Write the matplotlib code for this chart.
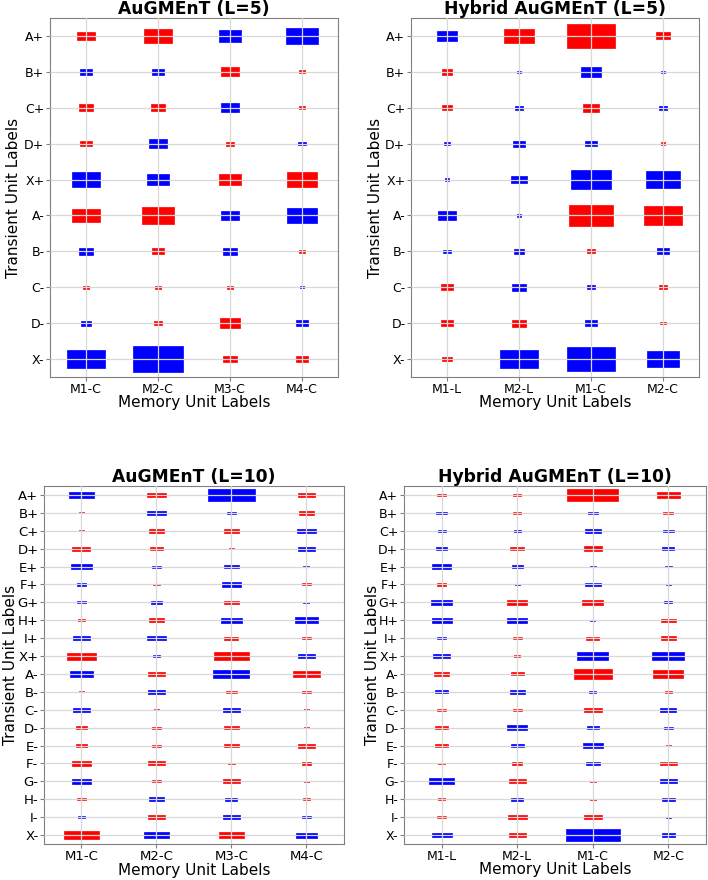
import numpy as np
import matplotlib
matplotlib.use('Agg')
import matplotlib.pyplot as plt
from matplotlib.patches import Rectangle

# row / column labels
rows_l5 = ['A+', 'B+', 'C+', 'D+', 'X+', 'A-', 'B-', 'C-', 'D-', 'X-']
rows_l10 = ['A+', 'B+', 'C+', 'D+', 'E+', 'F+', 'G+', 'H+', 'I+', 'X+',
            'A-', 'B-', 'C-', 'D-', 'E-', 'F-', 'G-', 'H-', 'I-', 'X-']
cols_aug = ['M1-C', 'M2-C', 'M3-C', 'M4-C']
cols_hyb = ['M1-L', 'M2-L', 'M1-C', 'M2-C']

# weights (red = positive, blue = negative), rows x memory units
w_aug5 = [
    [0.060, 0.160, -0.099, -0.194],
    [-0.029, -0.028, 0.0625, 0.0055],
    [0.040, 0.040, -0.060, 0.0081],
    [0.0256, -0.0625, 0.0112, -0.010],
    [-0.160, -0.093, 0.093, 0.168],
    [0.148, 0.203, -0.068, -0.172],
    [-0.036, 0.028, -0.038, 0.0069],
    [0.0077, 0.0062, 0.0069, -0.0036],
    [-0.018, 0.0135, 0.078, -0.031],
    [-0.270, -0.490, 0.034, 0.031],
]
w_hyb5 = [
    [-0.073, 0.168, 0.462, 0.036],
    [0.0225, -0.0042, -0.073, -0.0042],
    [0.0196, -0.010, 0.0484, -0.010],
    [-0.0064, -0.028, -0.0256, 0.0042],
    [-0.0036, -0.044, -0.3025, -0.221],
    [-0.065, -0.0036, 0.360, 0.281],
    [-0.010, -0.0169, 0.0144, -0.028],
    [0.0256, -0.038, -0.0112, 0.010],
    [0.0324, 0.040, -0.0324, 0.0055],
    [0.018, -0.270, -0.462, -0.189],
]
w_aug10 = [
    [-0.109, 0.0625, -0.397, 0.048],
    [0.0036, -0.0625, -0.0144, 0.044],
    [0.0036, 0.044, 0.040, -0.060],
    [0.0576, 0.029, 0.0044, -0.053],
    [-0.078, -0.0121, -0.044, -0.0064],
    [-0.017, 0.007, -0.060, 0.0121],
    [-0.0132, -0.0188, 0.040, -0.0064],
    [0.0094, 0.044, -0.078, -0.096],
    [-0.053, -0.060, 0.0346, 0.0164],
    [0.152, -0.0077, 0.221, -0.048],
    [-0.093, 0.048, -0.230, 0.137],
    [0.0036, -0.048, 0.0196, 0.0169],
    [-0.053, 0.0038, -0.051, 0.0034],
    [0.0196, 0.0121, 0.040, 0.0038],
    [0.0196, 0.0121, 0.036, 0.048],
    [0.060, 0.051, 0.0077, 0.0164],
    [-0.0625, 0.0121, 0.053, 0.0034],
    [0.0154, -0.040, -0.0256, 0.0086],
    [-0.007, 0.051, -0.053, -0.0154],
    [0.221, -0.109, 0.113, -0.078],
]
w_hyb10 = [
    [0.0154, 0.0121, 0.462, 0.090],
    [-0.0213, 0.0121, -0.0164, 0.0177],
    [-0.010, -0.0086, -0.044, -0.0196],
    [-0.0213, 0.0346, 0.060, -0.0256],
    [-0.066, -0.0213, -0.007, -0.0077],
    [0.0144, -0.0038, -0.044, -0.0038],
    [-0.080, 0.0676, 0.075, -0.0112],
    [-0.070, -0.073, -0.0038, 0.038],
    [-0.0154, 0.0144, 0.0282, 0.040],
    [-0.051, 0.0064, -0.168, -0.180],
    [0.038, 0.0282, 0.260, 0.160],
    [-0.0313, -0.040, -0.0077, 0.0077],
    [0.0154, 0.0144, 0.060, -0.044],
    [0.0282, -0.0676, -0.0269, -0.0144],
    [0.0282, -0.030, -0.0676, 0.0038],
    [0.0094, 0.0164, -0.036, 0.048],
    [-0.113, 0.051, 0.007, -0.051],
    [0.0094, -0.024, 0.007, -0.030],
    [0.0154, 0.0615, 0.055, -0.0038],
    [-0.0676, 0.048, -0.504, -0.0313],
]


def hinton(ax, W, rows, cols, title, tfs, ylab_x, xlab_y):
    W = np.asarray(W)
    for (r, c), w in np.ndenumerate(W):
        s = np.sqrt(abs(w))
        color = 'red' if w > 0 else 'blue'
        ax.add_patch(Rectangle((c - s / 2, r - s / 2), s, s,
                               facecolor=color, edgecolor=color, lw=0.5,
                               zorder=1))
    ax.set_xlim(-0.5, len(cols) - 0.5)
    ax.set_ylim(len(rows) - 0.5, -0.5)
    ax.set_xticks(range(len(cols)))
    ax.set_xticklabels(cols, fontsize=tfs)
    ax.set_yticks(range(len(rows)))
    ax.set_yticklabels(rows, fontsize=tfs)
    ax.set_axisbelow(False)
    ax.grid(True, color='#d8d8d8', lw=0.9, zorder=2)
    for sp in ax.spines.values():
        sp.set_color('#808080')
    ax.tick_params(color='#808080', length=3, pad=1)
    ax.set_title(title, fontsize=12.3, fontweight='bold', pad=0.5)
    ax.set_xlabel('Memory Unit Labels', fontsize=11)
    ax.set_ylabel('Transient Unit Labels', fontsize=11)
    ax.xaxis.set_label_coords(0.5, xlab_y)
    ax.yaxis.set_label_coords(ylab_x, 0.5)


fig = plt.figure(figsize=(7.08, 8.8), dpi=100)
ax1 = fig.add_axes([0.0706, 0.5716, 0.4068, 0.408])
ax2 = fig.add_axes([0.5805, 0.5716, 0.4068, 0.408])
ax3 = fig.add_axes([0.0621, 0.0409, 0.4237, 0.4068])
ax4 = fig.add_axes([0.5706, 0.0409, 0.4266, 0.4068])

hinton(ax1, w_aug5, rows_l5, cols_aug, 'AuGMEnT (L=5)', 9, -0.10, -0.05)
hinton(ax2, w_hyb5, rows_l5, cols_hyb, 'Hybrid AuGMEnT (L=5)', 9, -0.097, -0.05)
hinton(ax3, w_aug10, rows_l10, cols_aug, 'AuGMEnT (L=10)', 9.5, -0.086, -0.052)
hinton(ax4, w_hyb10, rows_l10, cols_hyb, 'Hybrid AuGMEnT (L=10)', 9, -0.08, -0.05)

fig.savefig('out.png', dpi=100)
